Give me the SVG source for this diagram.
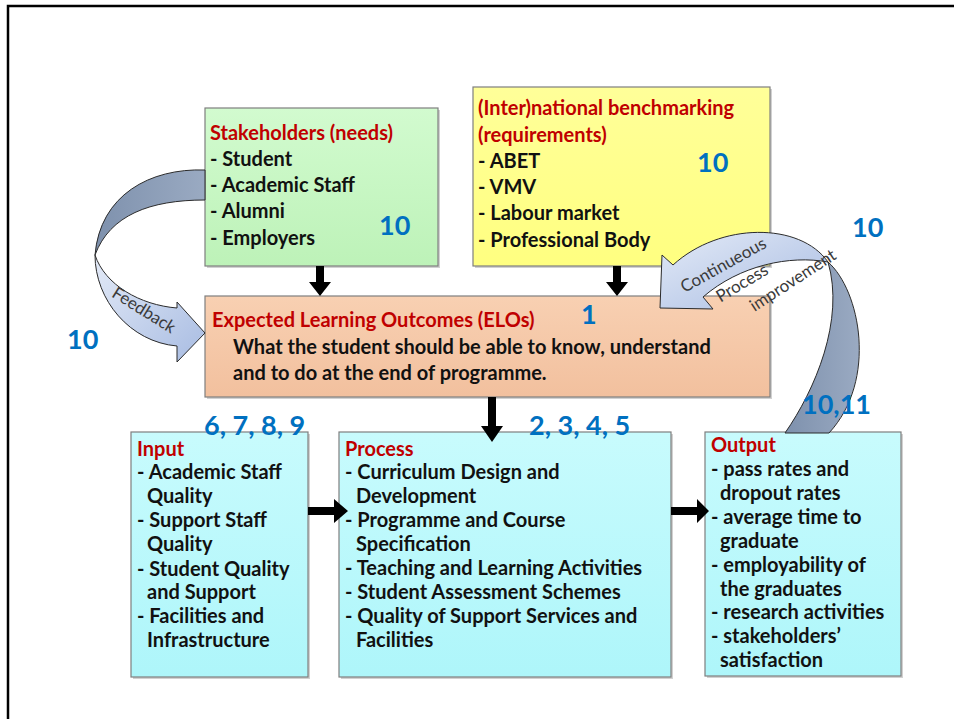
<svg xmlns="http://www.w3.org/2000/svg" width="954" height="719" viewBox="0 0 954 719">
<defs>
<linearGradient id="gGreen" x1="0" y1="0" x2="0" y2="1"><stop offset="0" stop-color="#d2fbcf"/><stop offset="1" stop-color="#bdf2b8"/></linearGradient>
<linearGradient id="gYellow" x1="0" y1="0" x2="0" y2="1"><stop offset="0" stop-color="#ffff99"/><stop offset="1" stop-color="#ffff80"/></linearGradient>
<linearGradient id="gPeach" x1="0" y1="0" x2="0" y2="1"><stop offset="0" stop-color="#f8d0b2"/><stop offset="1" stop-color="#f2c09e"/></linearGradient>
<linearGradient id="gCyan" x1="0" y1="0" x2="0" y2="1"><stop offset="0" stop-color="#c8fbfd"/><stop offset="1" stop-color="#aef6fa"/></linearGradient>
<linearGradient id="gLight" x1="0" y1="0" x2="1" y2="1"><stop offset="0" stop-color="#e3eaf7"/><stop offset="1" stop-color="#a8bce2"/></linearGradient>
<linearGradient id="gDark" x1="0" y1="0" x2="1" y2="0"><stop offset="0" stop-color="#7e91ad"/><stop offset="1" stop-color="#9aaac2"/></linearGradient>
</defs>
<style>
.box{stroke:#7f7f7f;stroke-width:1.2}
.shadow{fill:#000;opacity:0.18}
.t{font-family:Lato,"Liberation Sans",sans-serif;font-weight:bold;font-size:20px;fill:#111}
.h{font-family:Lato,"Liberation Sans",sans-serif;font-weight:bold;font-size:20px;fill:#c00000}
.n{font-family:Lato,"Liberation Sans",sans-serif;font-weight:bold;font-size:27px;fill:#0070c0}
.c{font-family:Lato,"Liberation Sans",sans-serif;font-size:17px;fill:#3a3a3a}
.arr{fill:#000}
.band{stroke:#2b2b2b;stroke-width:1}
</style>
<rect x="8" y="6" width="970" height="730" fill="#fff" stroke="#000" stroke-width="2.5"/>

<g id="stakeholders">
<rect class="shadow" x="207" y="110" width="233" height="158"/>
<rect class="box" x="205" y="108" width="233" height="158" fill="url(#gGreen)"/>
<text class="h" x="210" y="140">Stakeholders (needs)</text>
<text class="t" x="210" y="166">- Student</text>
<text class="t" x="210" y="192">- Academic Staff</text>
<text class="t" x="210" y="218">- Alumni</text>
<text class="t" x="210" y="245">- Employers</text>
<text class="n" x="379" y="235">10</text>
</g>

<g id="benchmarking">
<rect class="shadow" x="475" y="89" width="297" height="179"/>
<rect class="box" x="473" y="87" width="297" height="179" fill="url(#gYellow)"/>
<text class="h" x="478" y="115">(Inter)national benchmarking</text>
<text class="h" x="478" y="142">(requirements)</text>
<text class="t" x="478" y="168">- ABET</text>
<text class="t" x="478" y="194">- VMV</text>
<text class="t" x="478" y="220">- Labour market</text>
<text class="t" x="478" y="247">- Professional Body</text>
<text class="n" x="697" y="172">10</text>
</g>

<g id="elo">
<rect class="shadow" x="207" y="298" width="565" height="101"/>
<rect class="box" x="205" y="296" width="565" height="101" fill="url(#gPeach)"/>
<text class="h" x="212" y="327">Expected Learning Outcomes (ELOs)</text>
<text class="n" x="581" y="324">1</text>
<text class="t" x="233" y="354">What the student should be able to know, understand</text>
<text class="t" x="233" y="380">and to do at the end of programme.</text>
</g>

<g id="input">
<rect class="shadow" x="133" y="434" width="177" height="245"/>
<rect class="box" x="131" y="432" width="177" height="245" fill="url(#gCyan)"/>
<text class="h" x="137" y="456">Input</text>
<text class="t" x="137" y="479">- Academic Staff</text>
<text class="t" x="147" y="503">Quality</text>
<text class="t" x="137" y="527">- Support Staff</text>
<text class="t" x="147" y="551">Quality</text>
<text class="t" x="137" y="576">- Student Quality</text>
<text class="t" x="147" y="599">and Support</text>
<text class="t" x="137" y="623">- Facilities and</text>
<text class="t" x="147" y="647">Infrastructure</text>
</g>

<g id="process">
<rect class="shadow" x="341" y="434" width="332" height="245"/>
<rect class="box" x="339" y="432" width="332" height="245" fill="url(#gCyan)"/>
<text class="h" x="345" y="456">Process</text>
<text class="t" x="345" y="479">- Curriculum Design and</text>
<text class="t" x="356" y="503">Development</text>
<text class="t" x="345" y="527">- Programme and Course</text>
<text class="t" x="356" y="551">Specification</text>
<text class="t" x="345" y="575">- Teaching and Learning Activities</text>
<text class="t" x="345" y="599">- Student Assessment Schemes</text>
<text class="t" x="345" y="623">- Quality of Support Services and</text>
<text class="t" x="356" y="647">Facilities</text>
</g>

<g id="output">
<rect class="shadow" x="707" y="434" width="196" height="244"/>
<rect class="box" x="705" y="432" width="196" height="244" fill="url(#gCyan)"/>
<text class="h" x="711" y="452">Output</text>
<text class="t" x="711" y="476">- pass rates and</text>
<text class="t" x="720" y="500">dropout rates</text>
<text class="t" x="711" y="524">- average time to</text>
<text class="t" x="720" y="548">graduate</text>
<text class="t" x="711" y="572">- employability of</text>
<text class="t" x="720" y="596">the graduates</text>
<text class="t" x="711" y="619">- research activities</text>
<text class="t" x="711" y="643">- stakeholders’</text>
<text class="t" x="720" y="667">satisfaction</text>
</g>

<g id="connectors">
<polygon class="arr" points="316,266 324,266 324,282 331,282 320,296 309,282 316,282"/>
<polygon class="arr" points="613,266 621,266 621,282 628,282 617,296 606,282 613,282"/>
<polygon class="arr" points="488,397 496,397 496,426 503,426 492,442 481,426 488,426"/>
<polygon class="arr" points="308,507 334,507 334,499 348,511 334,523 334,515 308,515"/>
<polygon class="arr" points="671,507 697,507 697,499 709,511 697,523 697,515 671,515"/>

<path class="band" fill="url(#gDark)" d="M205,170 C150,168 100,195 95,255 C110,215 150,200 205,200 Z"/>
<path class="band" fill="url(#gLight)" d="M95,255 C95,300 130,342 177,346 L177,362 L205,333 L177,302 L177,308 C140,305 105,285 95,255 Z"/>
<text class="c" transform="translate(141,315) rotate(32)" text-anchor="middle">Feedback</text>

<path class="band" fill="url(#gDark)" d="M785,433 C815,390 845,320 828,262 C860,290 878,380 829,433 Z"/>
<path class="band" fill="url(#gLight)" d="M828,262 C800,222 720,222 673,265 L662,255 L660,308 L713,309 L703,297 C740,265 790,255 828,262 Z"/>
<text class="c" transform="translate(726,270) rotate(-29)" text-anchor="middle">Continueous</text>
<text class="c" transform="translate(745,288) rotate(-31)" text-anchor="middle">Process</text>
<text class="c" transform="translate(796,285) rotate(-33)" text-anchor="middle">improvement</text>
</g>

<g id="labels">
<text class="n" x="852" y="237">10</text>
<text class="n" x="67" y="349">10</text>
<text class="n" x="204" y="435" font-size="26">6, 7, 8, 9</text>
<text class="n" x="529" y="435" font-size="26">2, 3, 4, 5</text>
<text class="n" x="802" y="414">10,11</text>
</g>
</svg>
